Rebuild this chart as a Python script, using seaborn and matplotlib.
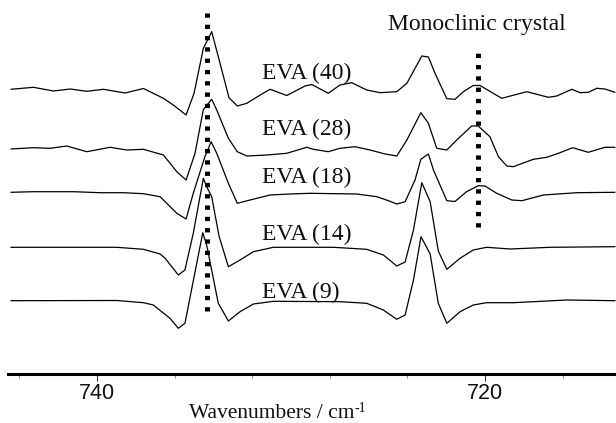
import matplotlib
matplotlib.use("Agg")
import matplotlib.pyplot as plt
import numpy as np
import pandas as pd
import seaborn as sns

sns.set_theme(style="white")
plt.rcParams["font.family"] = ["Liberation Serif", "DejaVu Serif"]

# spectra (wavenumber / cm-1, signal in arbitrary units)
wn_40 = [744.44, 743.28, 742.25, 741.39, 740.53, 739.67, 738.55, 737.61, 736.58, 736.07,
         735.41, 735.00, 734.52, 734.09, 733.66, 733.20, 732.77, 732.28, 731.59, 731.08,
         730.22, 729.28, 728.93, 728.08, 727.48, 726.87, 726.10, 725.41, 724.55, 724.03,
         723.26, 722.92, 722.58, 721.97, 721.55, 721.12, 720.61, 720.26, 719.14, 717.85,
         716.74, 716.30, 715.53, 715.10, 714.68, 714.24, 713.82, 713.30]
ab_40 = [-0.003, 0.017, -0.020, 0.000, -0.023, -0.003, -0.040, 0.005, -0.093, -0.160,
         -0.260, -0.043, 0.407, 0.573, 0.257, -0.087, -0.170, -0.143, -0.060, -0.003,
         -0.065, 0.030, 0.045, -0.043, 0.040, 0.063, -0.010, -0.037, -0.027, 0.057,
         0.330, 0.320, 0.157, -0.097, -0.103, -0.027, 0.035, 0.035, -0.093, -0.027,
         -0.083, -0.070, -0.003, -0.037, -0.033, 0.007, 0.000, -0.033]

wn_28 = [744.44, 743.28, 742.42, 741.56, 740.53, 739.33, 738.47, 737.61, 736.58, 735.89,
         735.41, 734.95, 734.52, 734.09, 733.83, 733.23, 732.77, 732.28, 731.25, 730.22,
         729.19, 728.85, 728.08, 727.48, 726.70, 725.93, 725.15, 724.55, 724.03, 723.31,
         722.92, 722.49, 721.97, 721.46, 720.69, 720.35, 719.75, 719.31, 718.88, 718.54,
         717.51, 716.82, 716.22, 715.48, 714.68, 713.82, 713.30]
ab_28 = [-0.005, 0.008, 0.002, 0.025, -0.032, 0.012, -0.015, -0.008, -0.065, -0.232,
         -0.315, -0.048, 0.390, 0.492, 0.385, 0.102, -0.032, -0.075, -0.065, -0.048,
         0.012, -0.008, -0.032, 0.002, 0.018, -0.015, -0.055, -0.075, 0.085, 0.358,
         0.252, 0.002, -0.015, 0.085, 0.225, 0.225, 0.118, -0.082, -0.175, -0.182,
         -0.108, -0.088, -0.048, 0.008, -0.038, 0.012, 0.012]

wn_18 = [744.44, 743.28, 741.22, 739.85, 738.64, 737.61, 736.75, 735.89, 735.41, 735.04,
         734.44, 734.12, 733.83, 733.23, 732.77, 732.11, 731.08, 730.05, 729.02, 726.62,
         725.58, 724.98, 724.55, 724.12, 723.61, 723.31, 722.92, 722.66, 721.97, 721.55,
         720.95, 720.35, 720.00, 719.40, 718.62, 718.10, 716.99, 715.27, 713.30]
ab_18 = [0.002, 0.008, 0.008, -0.002, -0.002, -0.012, -0.042, -0.208, -0.265, -0.008,
         0.358, 0.508, 0.392, 0.092, -0.108, -0.075, -0.025, -0.015, -0.008, -0.015,
         -0.042, -0.082, -0.115, -0.092, 0.125, 0.332, 0.385, 0.225, -0.082, -0.090,
         0.008, 0.068, 0.065, -0.008, -0.075, -0.082, -0.025, -0.002, 0.002]

wn_14 = [744.44, 738.98, 737.61, 736.75, 736.49, 735.81, 735.47, 735.04, 734.52, 734.35,
         734.09, 733.71, 733.23, 732.63, 731.94, 730.91, 727.82, 726.10, 725.24, 724.55,
         724.12, 723.69, 723.26, 722.83, 722.41, 721.97, 721.29, 720.61, 719.92, 718.71,
         716.65, 713.30]
ab_14 = [0.000, 0.000, -0.020, -0.067, -0.110, -0.277, -0.227, 0.140, 0.690, 0.606,
         0.506, 0.110, -0.194, -0.127, -0.044, 0.000, 0.000, -0.020, -0.077, -0.187,
         -0.147, 0.173, 0.646, 0.456, -0.037, -0.220, -0.110, -0.027, 0.000, -0.017,
         0.000, 0.006]

wn_9 = [744.44, 738.98, 737.61, 737.10, 736.24, 735.81, 735.47, 734.55, 734.35, 733.75,
        733.23, 732.63, 731.94, 730.91, 727.48, 726.10, 725.24, 724.55, 724.12, 723.69,
        723.30, 722.83, 722.41, 721.97, 721.29, 720.61, 719.92, 718.54, 717.51, 715.79,
        713.30]
ab_9 = [0.000, 0.002, -0.020, -0.043, -0.176, -0.276, -0.226, 0.680, 0.557, -0.026,
        -0.203, -0.110, -0.033, -0.006, -0.010, -0.026, -0.093, -0.186, -0.143, 0.207,
        0.640, 0.467, -0.026, -0.226, -0.110, -0.043, -0.020, -0.020, -0.010, 0.007,
        0.000]

samples = ["EVA (40)", "EVA (28)", "EVA (18)", "EVA (14)", "EVA (9)"]
wn_all = [wn_40, wn_28, wn_18, wn_14, wn_9]
ab_all = [ab_40, ab_28, ab_18, ab_14, ab_9]
offsets = [2.85, 2.255, 1.815, 1.267, 0.733]
label_y = [2.95, 2.39, 1.905, 1.34, 0.757]
label_wn = 731.52

# dotted marker lines: orthorhombic band and monoclinic crystal band
marker_wn = [734.31, 720.35]
marker_lo = [0.633, 1.47]
marker_hi = [3.607, 3.22]

major_ticks = [740, 720]
minor_ticks = [744, 736, 732, 728, 724, 716]

frames = []
for name, wn, ab, off in zip(samples, wn_all, ab_all, offsets):
    frames.append(pd.DataFrame({"wavenumber": wn,
                                "signal": np.array(ab) + off,
                                "sample": name}))
df = pd.concat(frames, ignore_index=True)

fig = plt.figure(figsize=(6.16, 4.23), dpi=100)
ax = fig.add_axes([8 / 616, 49 / 423, 608 / 616, 374 / 423])

sns.lineplot(data=df, x="wavenumber", y="signal", units="sample", estimator=None,
             sort=False, color="black", lw=0.9, ax=ax)

for x, lo, hi in zip(marker_wn, marker_lo, marker_hi):
    ax.plot([x, x], [lo, hi], color="black", lw=3.6, ls=(0, (0.86, 1.4)),
            dash_capstyle="butt", solid_capstyle="butt")

for name, y in zip(samples, label_y):
    ax.text(label_wn, y, name, fontsize=17, ha="left", va="baseline", color="#111111")
ax.text(724.98, 3.44, "Monoclinic crystal", fontsize=17, ha="left", va="baseline",
        color="#111111")

ax.set_xlim(744.59, 713.25)
ax.set_ylim(0, 3.74)
ax.set_yticks([])
ax.set_xticks(major_ticks)
ax.set_xticklabels([str(t) for t in major_ticks], fontfamily=["Liberation Sans"],
                   fontsize=15.5, color="#111111")
ax.set_xticks(minor_ticks, minor=True)
ax.tick_params(axis="x", which="major", direction="out", length=4.7, width=0.8,
               color="#333333", pad=2, bottom=True)
ax.tick_params(axis="x", which="minor", direction="out", length=3.2, width=0.6,
               color="#777777", bottom=True)
for side in ["top", "right", "left"]:
    ax.spines[side].set_visible(False)
ax.spines["bottom"].set_linewidth(2.2)
ax.spines["bottom"].set_color("black")

ax.set_ylabel("")
ax.set_xlabel("Wavenumbers / cm", fontsize=15.5, color="#111111")
ax.xaxis.set_label_coords((272 - 8) / 608, (374 - 418) / 374)
ax.xaxis.label.set_va("baseline")
ax.annotate("-1", xy=(1.0, 0.58), xycoords=ax.xaxis.label, fontsize=10,
            ha="left", va="baseline", color="#111111")

fig.savefig("out.png", dpi=100)
